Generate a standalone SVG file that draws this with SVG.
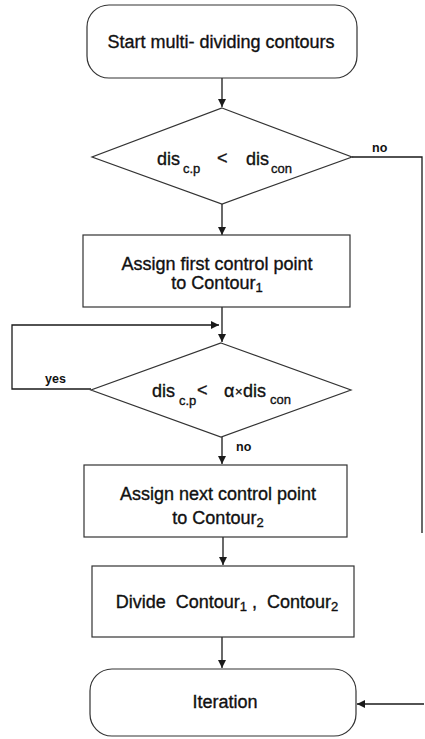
<svg xmlns="http://www.w3.org/2000/svg" width="425" height="739" viewBox="0 0 425 739">
<defs>
<marker id="ah" viewBox="0 0 10 10" refX="10" refY="5" markerWidth="8" markerHeight="8" markerUnits="userSpaceOnUse" orient="auto">
<path d="M0,0 L10,5 L0,10 z" fill="#1a1a1a"/>
</marker>
<style>
.sh{fill:#fff;stroke:#333;stroke-width:1.2}
.ln{fill:none;stroke:#1a1a1a;stroke-width:1.3}
.t{font-family:"Liberation Sans",Arial,sans-serif;font-size:18px;fill:#111;stroke:#111;stroke-width:0.35}
.c{text-anchor:middle}
.s{font-size:13px}
.lb{font-family:"Liberation Sans",Arial,sans-serif;font-size:12.5px;fill:#111;font-weight:bold}
</style>
</defs>
<rect width="425" height="739" fill="#fff"/>
<g id="connectors">
<line class="ln" x1="222" y1="78" x2="222" y2="107" marker-end="url(#ah)"/>
<polyline class="ln" points="352,157 422,157 422,533"/>
<line class="ln" x1="222" y1="204" x2="222" y2="235" marker-end="url(#ah)"/>
<line class="ln" x1="222" y1="307" x2="222" y2="342" marker-end="url(#ah)"/>
<polyline class="ln" points="91,389 12,389 12,325 219,325" marker-end="url(#ah)"/>
<line class="ln" x1="222" y1="437" x2="222" y2="464" marker-end="url(#ah)"/>
<line class="ln" x1="223" y1="537" x2="223" y2="565" marker-end="url(#ah)"/>
<line class="ln" x1="222" y1="637" x2="222" y2="668" marker-end="url(#ah)"/>
<line class="ln" x1="424" y1="704" x2="357" y2="704" marker-end="url(#ah)"/>
<text class="lb" x="372" y="152">no</text>
<text class="lb" x="232" y="193">yes</text>
<text class="lb" x="45" y="383">yes</text>
<text class="lb" x="236" y="451">no</text>
</g>
<g id="start">
<rect class="sh" x="87" y="5" width="270" height="73" rx="22"/>
<text class="t c" x="221" y="48">Start multi- dividing contours</text>
</g>
<g id="decision1">
<polygon class="sh" points="222,108 352,157 222,204 92,157"/>
<text class="t" x="157" y="165">dis</text>
<text class="t s" x="183" y="173">c.p</text>
<text class="t" x="217" y="164">&lt;</text>
<text class="t" x="246" y="165">dis</text>
<text class="t s" x="271" y="173">con</text>
</g>
<g id="assign1">
<rect class="sh" x="83" y="235" width="267" height="72"/>
<text class="t c" x="217" y="270">Assign first control point</text>
<text class="t c" x="217" y="289">to Contour<tspan class="s" dy="3">1</tspan></text>
</g>
<g id="decision2">
<polygon class="sh" points="221,343 351,390 221,437 91,390"/>
<text class="t" x="152" y="397">dis</text>
<text class="t s" x="179" y="405">c.p</text>
<text class="t" x="197" y="396">&lt;</text>
<text class="t" x="224" y="397">α</text>
<text class="t" x="235" y="396" style="font-size:13px">×</text>
<text class="t" x="243" y="397">dis</text>
<text class="t s" x="270" y="404">con</text>
</g>
<g id="assign2">
<rect class="sh" x="84" y="465" width="263" height="72"/>
<text class="t c" x="218" y="500">Assign next control point</text>
<text class="t c" x="218" y="524">to Contour<tspan class="s" dy="3">2</tspan></text>
</g>
<g id="divide">
<rect class="sh" x="92" y="566" width="262" height="71"/>
<text class="t c" x="227" y="608">Divide&#160; Contour<tspan class="s" dy="3">1</tspan><tspan dy="-3"> ,&#160; Contour</tspan><tspan class="s" dy="3">2</tspan></text>
</g>
<g id="iteration">
<rect class="sh" x="90" y="669" width="266" height="67" rx="22"/>
<text class="t c" x="225" y="708">Iteration</text>
</g>
</svg>
